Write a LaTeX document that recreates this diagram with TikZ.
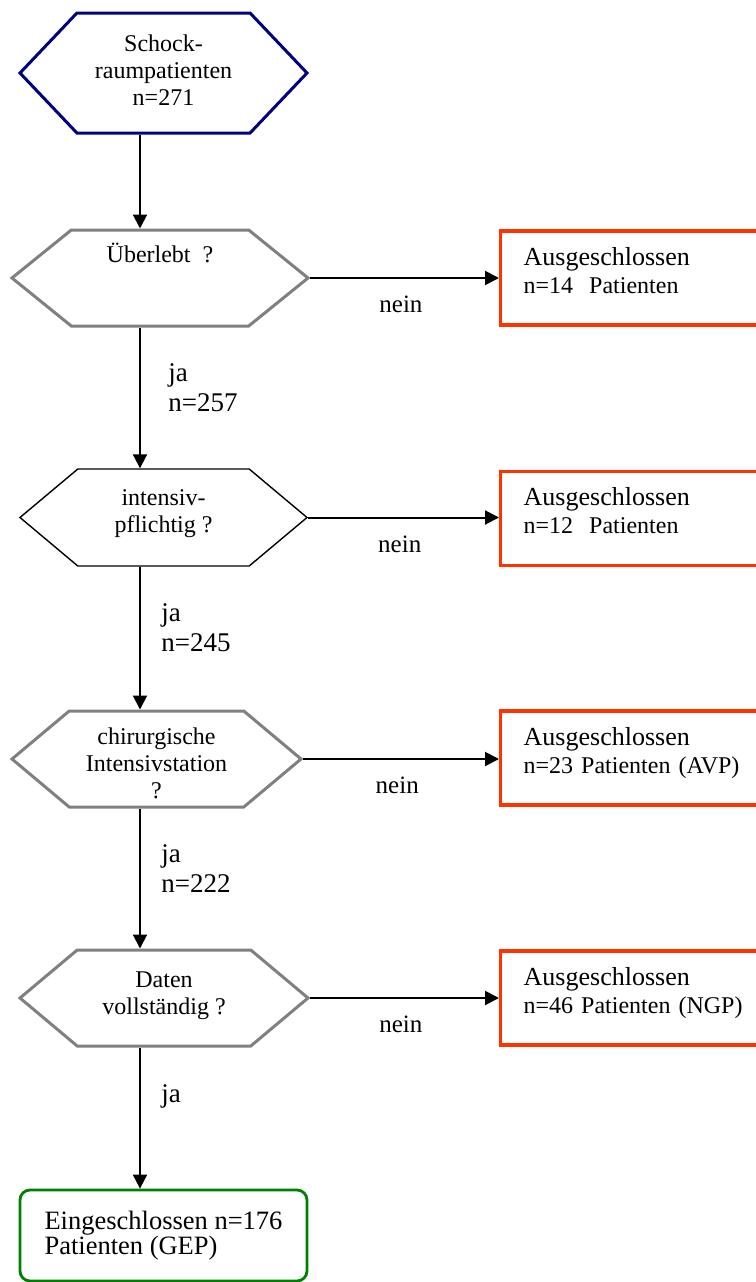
\documentclass[tikz,border=0pt]{standalone}
\usepackage{fontspec}
\setmainfont{Liberation Serif}
\usetikzlibrary{arrows.meta,shapes.symbols}

\definecolor{startblue}{RGB}{0,0,128}
\definecolor{stepgrey}{RGB}{128,128,128}
\definecolor{exclred}{RGB}{255,51,0}
\definecolor{inclgreen}{RGB}{0,128,0}

\begin{document}
\begin{tikzpicture}[
    x=1pt,y=-1pt,
    line join=miter,
    hexstep/.style={
        signal,
        signal to=east and west,
        signal pointer angle=80,
        draw=stepgrey,
        line width=3pt,
        minimum width=288pt,
        minimum height=96pt,
        inner sep=0pt,
        align=center,
        font=\fontsize{24}{27}\selectfont
    },
    exclbox/.style={
        draw=exclred,
        line width=3.4pt,
        anchor=west,
        minimum height=94pt,
        text width=225pt,
        inner xsep=23pt,
        align=left,
        text depth=44pt,
        font=\fontsize{24}{28}\selectfont
    },
    inclbox/.style={
        draw=inclgreen,
        line width=2.8pt,
        rounded corners=10pt,
        minimum width=287pt,
        minimum height=91pt,
        inner xsep=0pt,
        align=left,
        font=\fontsize{26.5}{25}\selectfont
    },
    flow/.style={draw=black,line width=2pt,-{Triangle[length=14pt,width=14pt]}},
    nolabel/.style={font=\fontsize{25}{28}\selectfont,below=14pt,pos=0.48},
    yeslabel/.style={font=\fontsize{27}{30}\selectfont,anchor=west,align=left}
]

\useasboundingbox (0,0) rectangle (755,1282);

\coordinate (spine) at (140,0);

\node[hexstep,draw=startblue,minimum width=287pt,minimum height=120pt,
      signal pointer angle=93,text depth=6pt] (start) at (163.5,73) {Schock-\\raumpatienten\\n=271};
\node[hexstep,minimum width=296pt,signal pointer angle=78,text depth=51pt] (survive) at (160,278) {Überlebt\ \ ?};
\node[hexstep,draw=black,line width=1.4pt,minimum width=287pt,minimum height=97pt,
      text depth=13pt] (icu) at (163.5,517.5) {intensiv-\\pflichtig ?};
\node[hexstep,minimum width=289pt,text height=79pt] (surg) at (156.5,759) {chirurgische\\Intensivstation\\?};
\node[hexstep,text depth=10pt] (data) at (164,998) {Daten\\vollständig ?};

\node[exclbox] (excl1) at (499,278) {\fontsize{26}{28}\selectfont Ausgeschlossen\\\fontsize{24}{28}\selectfont n=14\ \ Patienten};
\node[exclbox] (excl2) at (499,518.5) {\fontsize{26}{28}\selectfont Ausgeschlossen\\\fontsize{24}{28}\selectfont n=12\ \ Patienten};
\node[exclbox] (excl3) at (499,758) {\fontsize{26}{28}\selectfont Ausgeschlossen\\\fontsize{24}{28}\selectfont n=23 Patienten (AVP)};
\node[exclbox] (excl4) at (499,998) {\fontsize{26}{28}\selectfont Ausgeschlossen\\\fontsize{24}{28}\selectfont n=46 Patienten (NGP)};

\node[inclbox] (incl) at (163.5,1235.5) {Eingeschlossen n=176\\Patienten (GEP)};

\draw[flow] (start.south -| spine) -- (survive.north -| spine);
\draw[flow] (survive.south -| spine) -- (icu.north -| spine)
    node[yeslabel,pos=0.43,xshift=24pt] {ja\\n=257};
\draw[flow] (icu.south -| spine) -- (surg.north -| spine)
    node[yeslabel,pos=0.43,xshift=17pt] {ja\\n=245};
\draw[flow] (surg.south -| spine) -- (data.north -| spine)
    node[yeslabel,pos=0.43,xshift=17pt] {ja\\n=222};
\draw[flow] (data.south -| spine) -- (incl.north -| spine)
    node[yeslabel,pos=0.35,xshift=17pt] {ja};

\foreach \q/\x in {survive/excl1,icu/excl2,surg/excl3,data/excl4}
    \draw[flow] (\q.east) -- (\q.east -| \x.west) node[nolabel] {nein};

\end{tikzpicture}
\end{document}
